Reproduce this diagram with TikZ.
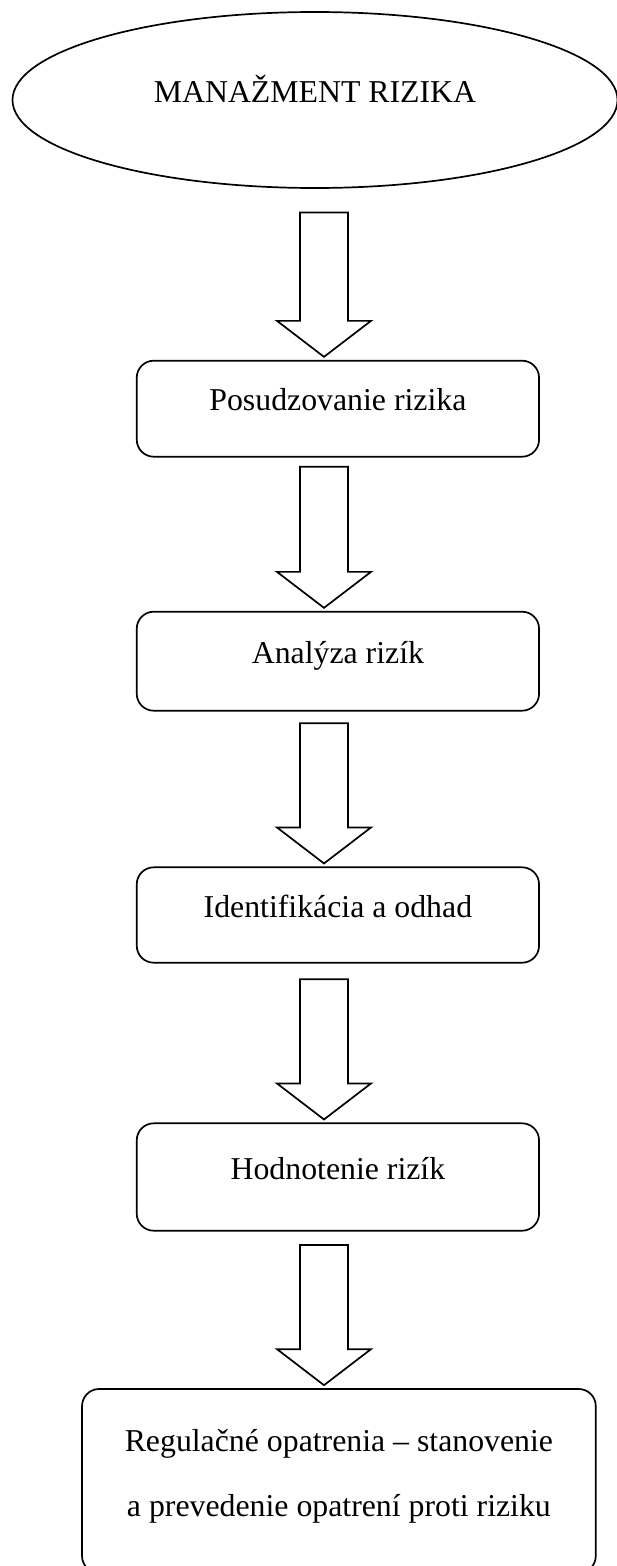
\documentclass[tikz,border=0pt]{standalone}
\usepackage{fontspec}
\setmainfont{Liberation Serif}
\usetikzlibrary{shapes.geometric,calc}

\tikzset{
    txt/.style={font=\fontsize{31.8}{65}\selectfont},
    oneline/.style={text height=0.7em, text depth=0.25em},
    stepbox/.style={draw, line width=1.7pt, rounded corners=17pt, minimum width=402.3pt, txt},
    topoval/.style={draw, ellipse, line width=1.7pt, minimum width=605pt, minimum height=176pt, txt, oneline},
    flowarr/.style={draw, line width=1.7pt, line join=miter, fill=white},
}

% block arrow: #1 = top of shaft, #2 = box below
\newcommand{\flowarrow}[2]{%
    \path (#1 |- #2.north) ++(0,-3) coordinate (tip);
    \draw[flowarr] ($(#1)+(-24,0)$) -- ($(#1)+(24,0)$) -- ($(tip)+(24,-36)$)
        -- ($(tip)+(47,-36)$) -- (tip) -- ($(tip)+(-47,-36)$)
        -- ($(tip)+(-24,-36)$) -- cycle;
}

\begin{document}
\begin{tikzpicture}[x=1pt, y=-1pt]

    \useasboundingbox (0,0) rectangle (617,1566);

    \node[topoval] (mr) at (315,100) {MANAŽMENT RIZIKA};

    \node[stepbox, oneline, minimum height=96pt]    (b1) at (337.9,408.7) {Posudzovanie rizika};
    \node[stepbox, oneline, minimum height=99pt]    (b2) at (337.9,661.2) {Analýza rizík};
    \node[stepbox, oneline, minimum height=95.4pt]  (b3) at (337.9,915)   {Identifikácia a odhad};
    \node[stepbox, oneline, minimum height=107.4pt] (b4) at (337.9,1177)  {Hodnotenie rizík};
    \node[stepbox, minimum width=513.7pt, minimum height=184pt, align=center,
          text height=79pt, text depth=8pt]
        (b5) at (338.9,1481) {Regulačné opatrenia – stanovenie\\a prevedenie opatrení proti riziku};

    \coordinate (s1) at (324,212.5);
    \coordinate (s2) at (324,466.7);
    \coordinate (s3) at (324,723.3);
    \coordinate (s4) at (324,979.3);
    \coordinate (s5) at (324,1245);

    \flowarrow{s1}{b1}
    \flowarrow{s2}{b2}
    \flowarrow{s3}{b3}
    \flowarrow{s4}{b4}
    \flowarrow{s5}{b5}

\end{tikzpicture}
\end{document}
